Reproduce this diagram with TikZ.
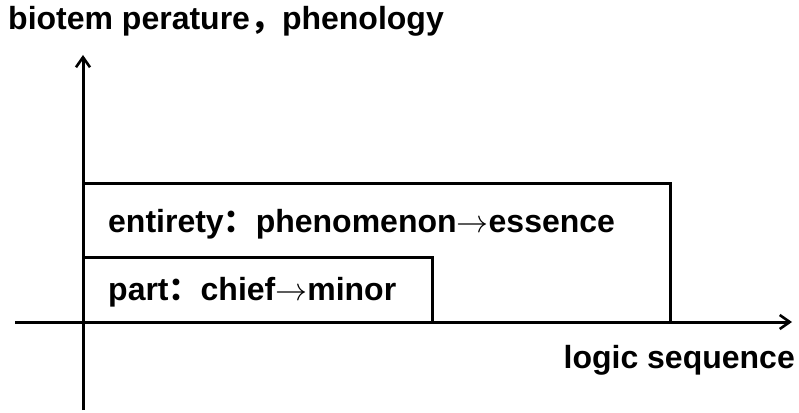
\RequirePackage{fix-cm}
\documentclass[tikz,border=0pt]{standalone}
\usepackage{fontspec}
\setmainfont{Liberation Sans}
\newfontfamily\cjk{Noto Sans CJK SC}
\usetikzlibrary{arrows.meta}

\tikzset{
  axis/.style={line width=3pt, -{Straight Barb[length=10pt,width=14pt,line width=2.6pt]}},
  frame/.style={line width=3pt},
  lbl/.style={font=\fontsize{32pt}{36pt}\selectfont\bfseries, inner sep=0pt}
}
\newcommand{\arr}{$\rightarrow$}

\begin{document}
\begin{tikzpicture}[x=1pt,y=1pt]
\useasboundingbox (0,0) rectangle (799,412);

% axes
\coordinate (ybot) at (83,2);
\coordinate (ytop) at (83,357);
\coordinate (xleft) at (15,90);
\coordinate (xright) at (792,90);
\draw[axis] (ybot) -- (ytop);
\draw[axis] (xleft) -- (xright);

% the two blocks
\coordinate (o) at (83,90);
\draw[frame] (o) |- (670,228) -- (670,90);
\draw[frame] (o) |- (432,154) -- (432,90);

\node[lbl, anchor=west] (whole) at (108,188) {entirety{\cjk ：}phenomenon\arr essence};
\node[lbl, anchor=west] (part) at (108,120) {part{\cjk ：}chief\arr minor};

% axis titles
\node[lbl, anchor=west] (ylab) at (8,391) {biotem perature{\cjk ，}phenology};
\node[lbl, anchor=east] (xlab) at (795,52) {logic sequence};
\end{tikzpicture}
\end{document}
